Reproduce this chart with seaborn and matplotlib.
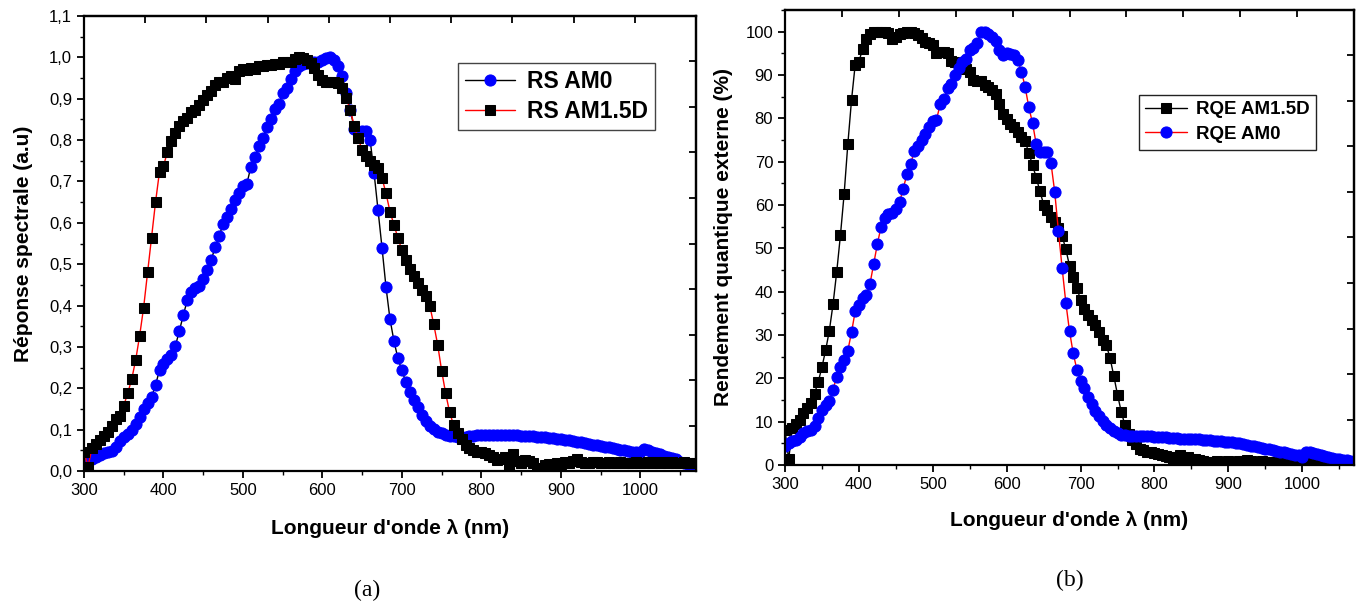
import numpy as np
import pandas as pd
import matplotlib
matplotlib.use("Agg")
import matplotlib.pyplot as plt
from matplotlib.ticker import MultipleLocator, FuncFormatter
import seaborn as sns

# longueurs d'onde (nm), pas de 5 nm
wavelength = np.arange(300, 1075, 5)

# (a) réponse spectrale normalisée
rs_am0 = [
    0.025, 0.027, 0.028, 0.034, 0.039, 0.044, 0.047, 0.049, 0.057, 0.072,
    0.082, 0.089, 0.099, 0.113, 0.131, 0.149, 0.164, 0.178, 0.208, 0.244,
    0.258, 0.270, 0.280, 0.302, 0.339, 0.377, 0.414, 0.433, 0.442, 0.447,
    0.465, 0.486, 0.510, 0.541, 0.568, 0.597, 0.613, 0.633, 0.656, 0.672,
    0.690, 0.695, 0.736, 0.758, 0.786, 0.804, 0.831, 0.851, 0.875, 0.887,
    0.913, 0.926, 0.947, 0.966, 0.978, 0.985, 0.986, 0.986, 0.988, 0.990,
    0.994, 0.998, 1.000, 0.994, 0.978, 0.955, 0.913, 0.873, 0.828, 0.820,
    0.822, 0.822, 0.800, 0.720, 0.630, 0.539, 0.444, 0.367, 0.314, 0.272,
    0.243, 0.215, 0.192, 0.172, 0.155, 0.135, 0.121, 0.110, 0.102, 0.095,
    0.091, 0.087, 0.085, 0.084, 0.083, 0.083, 0.083, 0.084, 0.085, 0.086,
    0.086, 0.087, 0.087, 0.087, 0.087, 0.087, 0.087, 0.086, 0.086, 0.086,
    0.085, 0.085, 0.085, 0.084, 0.083, 0.082, 0.081, 0.080, 0.079, 0.078,
    0.077, 0.075, 0.074, 0.072, 0.071, 0.069, 0.067, 0.066, 0.064, 0.062,
    0.060, 0.059, 0.057, 0.055, 0.053, 0.051, 0.050, 0.048, 0.047, 0.045,
    0.046, 0.053, 0.050, 0.047, 0.044, 0.041, 0.037, 0.034, 0.031, 0.028,
    0.022, 0.019, 0.016, 0.012, 0.008,
]
rs_am15d = [
    0.045, 0.010, 0.055, 0.065, 0.075, 0.085, 0.095, 0.110, 0.125, 0.133,
    0.158, 0.188, 0.222, 0.268, 0.327, 0.395, 0.480, 0.564, 0.650, 0.724,
    0.737, 0.772, 0.797, 0.816, 0.833, 0.845, 0.853, 0.869, 0.873, 0.885,
    0.897, 0.909, 0.919, 0.933, 0.940, 0.940, 0.950, 0.956, 0.947, 0.968,
    0.972, 0.970, 0.975, 0.972, 0.978, 0.980, 0.981, 0.982, 0.984, 0.984,
    0.988, 0.990, 0.988, 0.996, 1.000, 0.998, 0.994, 0.986, 0.974, 0.958,
    0.945, 0.941, 0.941, 0.940, 0.937, 0.925, 0.901, 0.873, 0.834, 0.804,
    0.776, 0.762, 0.750, 0.740, 0.732, 0.708, 0.671, 0.627, 0.595, 0.563,
    0.534, 0.510, 0.488, 0.472, 0.455, 0.438, 0.422, 0.400, 0.355, 0.305,
    0.242, 0.188, 0.142, 0.111, 0.093, 0.077, 0.063, 0.055, 0.050, 0.047,
    0.045, 0.043, 0.039, 0.033, 0.027, 0.030, 0.035, 0.015, 0.040, 0.025,
    0.019, 0.027, 0.024, 0.019, 0.008, 0.005, 0.015, 0.018, 0.012, 0.020,
    0.018, 0.022, 0.020, 0.025, 0.028, 0.022, 0.020, 0.020, 0.021, 0.022,
    0.020, 0.020, 0.022, 0.020, 0.020, 0.021, 0.020, 0.020, 0.020, 0.021,
    0.020, 0.020, 0.021, 0.020, 0.021, 0.020, 0.021, 0.020, 0.021, 0.020,
    0.020, 0.021, 0.020, 0.020, 0.020,
]

# (b) rendement quantique externe (%)
rqe_am15d = [
    8.0, 1.3, 8.6, 9.5, 10.5, 11.9, 13.1, 14.4, 16.5, 19.2,
    22.6, 26.5, 31.0, 37.1, 44.6, 53.0, 62.5, 74.0, 84.2, 92.4,
    93.0, 96.1, 98.2, 99.4, 100.0, 100.0, 100.0, 99.9, 99.7, 98.4,
    98.8, 99.4, 99.8, 99.9, 100.0, 99.8, 99.2, 98.5, 97.5, 97.4,
    97.0, 95.1, 95.2, 95.2, 95.1, 93.3, 92.9, 92.4, 91.8, 91.3,
    90.6, 88.9, 88.6, 88.6, 87.8, 87.3, 86.6, 85.5, 83.3, 80.9,
    79.8, 78.8, 78.0, 76.8, 75.8, 74.7, 72.0, 69.2, 66.3, 63.2,
    60.1, 58.8, 57.3, 56.0, 54.8, 52.9, 49.8, 46.0, 43.5, 40.8,
    38.1, 36.1, 34.7, 33.4, 32.3, 30.7, 28.8, 27.6, 24.6, 20.5,
    16.2, 12.3, 9.2, 7.2, 5.7, 4.8, 3.8, 3.4, 3.1, 2.9,
    2.7, 2.5, 2.3, 2.0, 1.8, 1.5, 1.8, 2.3, 1.0, 1.9,
    1.4, 1.5, 1.2, 1.0, 0.6, 0.8, 0.8, 0.9, 0.8, 0.8,
    0.9, 0.8, 0.8, 0.9, 1.0, 1.2, 1.0, 0.8, 0.8, 0.9,
    0.8, 0.8, 0.8, 0.7, 0.8, 0.7, 0.7, 0.6, 0.6, 0.5,
    0.5, 0.5, 0.5, 0.4, 0.4, 0.4, 0.4, 0.4, 0.4, 0.4,
    0.4, 0.3, 0.3, 0.2, 0.2,
]
rqe_am0 = [
    4.5, 5.0, 5.5, 5.8, 6.5, 7.3, 7.8, 8.0, 9.0, 10.8,
    12.7, 13.9, 14.8, 17.4, 20.4, 22.7, 24.2, 26.4, 30.6, 35.5,
    37.0, 38.5, 39.3, 41.8, 46.4, 51.0, 55.0, 56.9, 58.0, 58.1,
    59.1, 60.6, 63.8, 67.1, 69.5, 72.4, 73.5, 75.1, 76.4, 78.0,
    79.3, 79.7, 83.2, 84.4, 87.0, 88.0, 90.1, 91.6, 93.0, 93.6,
    95.8, 96.2, 97.4, 99.9, 99.9, 99.5, 98.8, 97.8, 95.8, 94.7,
    95.0, 94.9, 94.6, 93.4, 90.8, 87.2, 82.5, 78.9, 74.0, 72.2,
    72.2, 72.2, 69.6, 63.0, 54.0, 45.5, 37.5, 30.9, 25.8, 22.0,
    19.5, 17.7, 15.8, 14.0, 12.5, 11.2, 10.1, 9.2, 8.5, 7.8,
    7.3, 7.0, 6.9, 6.8, 6.8, 6.7, 6.7, 6.7, 6.6, 6.6,
    6.5, 6.5, 6.4, 6.4, 6.3, 6.3, 6.2, 6.1, 6.1, 6.0,
    6.0, 5.9, 5.9, 5.8, 5.8, 5.7, 5.6, 5.6, 5.5, 5.4,
    5.4, 5.2, 5.1, 5.0, 4.8, 4.6, 4.4, 4.3, 4.1, 4.0,
    3.8, 3.6, 3.4, 3.3, 3.1, 2.9, 2.7, 2.6, 2.4, 2.2,
    1.9, 3.1, 2.9, 2.7, 2.5, 2.3, 2.1, 1.9, 1.7, 1.5,
    1.3, 1.2, 1.1, 1.0, 1.0,
]

sns.set_style("ticks")
plt.rcParams["font.family"] = ["Liberation Sans", "DejaVu Sans"]
plt.rcParams.update({
    "axes.linewidth": 1.6,
    "axes.edgecolor": "black",
    "text.color": "black",
    "axes.labelcolor": "black",
    "xtick.color": "black",
    "ytick.color": "black",
})

df = pd.DataFrame({"wl": wavelength, "rs_am0": rs_am0, "rs_am15d": rs_am15d,
                   "rqe_am15d": rqe_am15d, "rqe_am0": rqe_am0})

fig = plt.figure(figsize=(13.66, 6.06), dpi=100)
ax1 = fig.add_axes([84 / 1366, 1 - 471 / 606, 612 / 1366, 455 / 606])
ax2 = fig.add_axes([785 / 1366, 1 - 465 / 606, 569 / 1366, 455 / 606])

circ = dict(marker="o", markersize=8, markerfacecolor="#0000ff",
            markeredgecolor="#0000ff", linewidth=1.0)
sq = dict(marker="s", markersize=7.2, markerfacecolor="black",
          markeredgecolor="black", linewidth=1.0)

# panel (a)
sns.lineplot(data=df, x="wl", y="rs_am0", ax=ax1, color="black", label="RS AM0", **circ)
sns.lineplot(data=df, x="wl", y="rs_am15d", ax=ax1, color="red", label="RS AM1.5D", **sq)
# panel (b)
sns.lineplot(data=df, x="wl", y="rqe_am15d", ax=ax2, color="black", label="RQE AM1.5D", **sq)
sns.lineplot(data=df, x="wl", y="rqe_am0", ax=ax2, color="red", label="RQE AM0", **circ)


def style_axes(ax, ymax, ymajor, yminor, ylabel, comma):
    ax.set_xlim(300, 1070)
    ax.set_ylim(0, ymax)
    ax.xaxis.set_major_locator(MultipleLocator(100))
    ax.xaxis.set_minor_locator(MultipleLocator(50))
    ax.yaxis.set_major_locator(MultipleLocator(ymajor))
    ax.yaxis.set_minor_locator(MultipleLocator(yminor))
    if comma:
        ax.yaxis.set_major_formatter(FuncFormatter(lambda v, p: f"{v:.1f}".replace(".", ",")))
    ax.tick_params(which="major", direction="out", length=5, width=1.3,
                   labelsize=12, top=False, right=False)
    ax.tick_params(which="minor", direction="out", length=3, width=1.0,
                   top=False, right=False)
    # graduations haut / droite sans étiquettes (style Origin)
    top = ax.secondary_xaxis("top")
    top.set_xticks(np.linspace(300, 1070, 11))
    top.tick_params(direction="in", length=5, width=1.3, labeltop=False)
    right = ax.secondary_yaxis("right")
    right.set_yticks(np.linspace(0, ymax, 11))
    right.tick_params(direction="in", length=5, width=1.3, labelright=False)
    for s in ax.spines.values():
        s.set_linewidth(1.6)
    ax.set_xlabel("Longueur d'onde λ (nm)", fontsize=15, fontweight="bold")
    ax.set_ylabel(ylabel, fontsize=15, fontweight="bold")


style_axes(ax1, 1.1, 0.1, 0.05, "Réponse spectrale (a.u)", True)
style_axes(ax2, 105, 10, 5, "Rendement quantique externe (%)", False)
ax1.xaxis.set_label_coords(0.5, -0.105)
ax2.xaxis.set_label_coords(0.5, -0.100)
ax1.yaxis.set_label_coords(-0.083, 0.5)
ax2.yaxis.set_label_coords(-0.092, 0.5)

leg1 = ax1.legend(loc="upper left", bbox_to_anchor=(0.611, 0.896), frameon=True,
                  fancybox=False, edgecolor="#444444", framealpha=1,
                  prop={"weight": "bold", "size": 16.5}, handlelength=2.2,
                  borderpad=0.3, labelspacing=0.3, handletextpad=0.5, borderaxespad=0)
leg1.get_frame().set_linewidth(1.0)
leg2 = ax2.legend(loc="upper left", bbox_to_anchor=(0.622, 0.814), frameon=True,
                  fancybox=False, edgecolor="#222222", framealpha=1,
                  prop={"weight": "bold", "size": 13.5}, handlelength=2.2,
                  borderpad=0.35, labelspacing=0.4, handletextpad=0.5, borderaxespad=0)
leg2.get_frame().set_linewidth(1.0)

fig.text(367 / 1366, 1 - 590 / 606, "(a)", ha="center", va="center",
         fontsize=17, family="Liberation Serif")
fig.text(1070 / 1366, 1 - 580 / 606, "(b)", ha="center", va="center",
         fontsize=17, family="Liberation Serif")

fig.savefig("out.png", dpi=100)
